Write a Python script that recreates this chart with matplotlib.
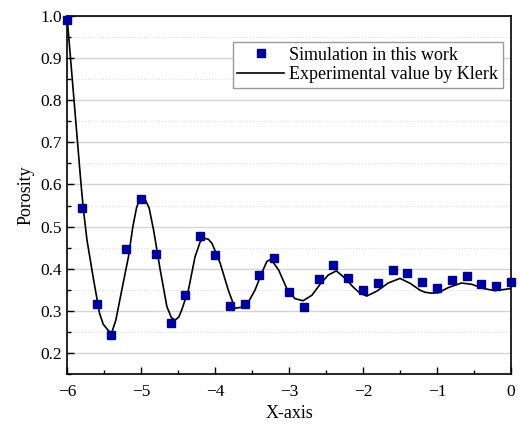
import numpy as np
import matplotlib
matplotlib.use("Agg")
import matplotlib.pyplot as plt
from matplotlib.ticker import MultipleLocator

plt.rcParams['font.family'] = ['Liberation Serif', 'DejaVu Serif']
plt.rcParams['mathtext.fontset'] = 'stix'

# simulation points (squares)
sim_x = [-6.0, -5.8, -5.6, -5.4, -5.2, -5.0, -4.8, -4.6, -4.4, -4.2, -4.0,
         -3.8, -3.6, -3.4, -3.2, -3.0, -2.8, -2.6, -2.4, -2.2, -2.0,
         -1.8, -1.6, -1.4, -1.2, -1.0, -0.8, -0.6, -0.4, -0.2, 0.0]
sim_y = [0.990, 0.543, 0.316, 0.242, 0.446, 0.565, 0.436, 0.272, 0.338, 0.477, 0.433,
         0.311, 0.316, 0.384, 0.426, 0.344, 0.310, 0.375, 0.409, 0.379, 0.349,
         0.365, 0.396, 0.389, 0.368, 0.354, 0.373, 0.382, 0.363, 0.359, 0.369]

# experimental curve
exp_x = [-6.0, -5.86, -5.815, -5.78, -5.73, -5.64, -5.56, -5.51, -5.45, -5.40, -5.34,
         -5.26, -5.17, -5.11, -5.06, -5.02, -4.98, -4.94, -4.89, -4.83, -4.74, -4.65,
         -4.59, -4.54, -4.49, -4.45, -4.36, -4.27, -4.20, -4.14, -4.09, -4.04, -3.93,
         -3.82, -3.73, -3.66, -3.57, -3.46, -3.37, -3.30, -3.26, -3.23, -3.14, -3.03,
         -2.92, -2.81, -2.69, -2.58, -2.47, -2.36, -2.24, -2.13, -2.04, -1.95, -1.81,
         -1.66, -1.50, -1.36, -1.23, -1.16, -1.07, -0.98, -0.85, -0.67, -0.53, -0.37,
         -0.22, -0.08, 0.0]
exp_y = [1.0, 0.705, 0.610, 0.543, 0.468, 0.373, 0.294, 0.268, 0.255, 0.246, 0.278,
         0.349, 0.428, 0.500, 0.545, 0.564, 0.567, 0.563, 0.544, 0.492, 0.397, 0.310,
         0.284, 0.278, 0.285, 0.302, 0.349, 0.428, 0.464, 0.472, 0.470, 0.460, 0.413,
         0.349, 0.306, 0.308, 0.314, 0.349, 0.389, 0.417, 0.421, 0.419, 0.397, 0.353,
         0.329, 0.324, 0.337, 0.363, 0.385, 0.395, 0.377, 0.356, 0.342, 0.335, 0.347,
         0.366, 0.377, 0.365, 0.349, 0.344, 0.342, 0.343, 0.355, 0.366, 0.363, 0.353,
         0.348, 0.351, 0.353]

fig = plt.figure(figsize=(5.21, 4.30), dpi=100)
ax = fig.add_axes([0.1286, 0.1302, 0.8522, 0.8326])

ax.plot(exp_x, exp_y, color='black', lw=1.2, label='Experimental value by Klerk', zorder=3)
ax.plot(sim_x, sim_y, 's', color='#000099', ms=6, label='Simulation in this work',
        zorder=4, clip_on=False)

ax.set_xlim(-6, 0)
ax.set_ylim(0.15, 1.0)
ax.xaxis.set_major_locator(MultipleLocator(1))
ax.xaxis.set_minor_locator(MultipleLocator(0.5))
ax.yaxis.set_major_locator(MultipleLocator(0.1))
ax.yaxis.set_minor_locator(MultipleLocator(0.05))
ax.yaxis.set_major_formatter(matplotlib.ticker.FormatStrFormatter('%.1f'))
ax.tick_params(which='both', direction='in', labelsize=12.5, colors='black')
ax.tick_params(which='major', length=5, width=1)
ax.tick_params(which='minor', length=3, width=1)
ax.tick_params(axis='x', pad=7)

ax.grid(axis='y', which='major', color='#d4d4d4', lw=1, ls='-')
ax.grid(axis='y', which='minor', color='#dcdcdc', lw=0.8, ls=':')
ax.set_axisbelow(True)
for s in ax.spines.values():
    s.set_linewidth(1.2)

ax.set_xlabel('X-axis', fontsize=13)
ax.set_ylabel('Porosity', fontsize=13)

h, l = ax.get_legend_handles_labels()
leg = ax.legend(h[::-1], l[::-1], loc='upper right', bbox_to_anchor=(0.982, 0.927),
                fontsize=13, fancybox=False, edgecolor='#999999', framealpha=1,
                handlelength=2.6, handletextpad=0.3, borderpad=0.25,
                labelspacing=0.15, numpoints=1, borderaxespad=0)
leg.get_frame().set_linewidth(1)

fig.savefig('out.png', dpi=100)
